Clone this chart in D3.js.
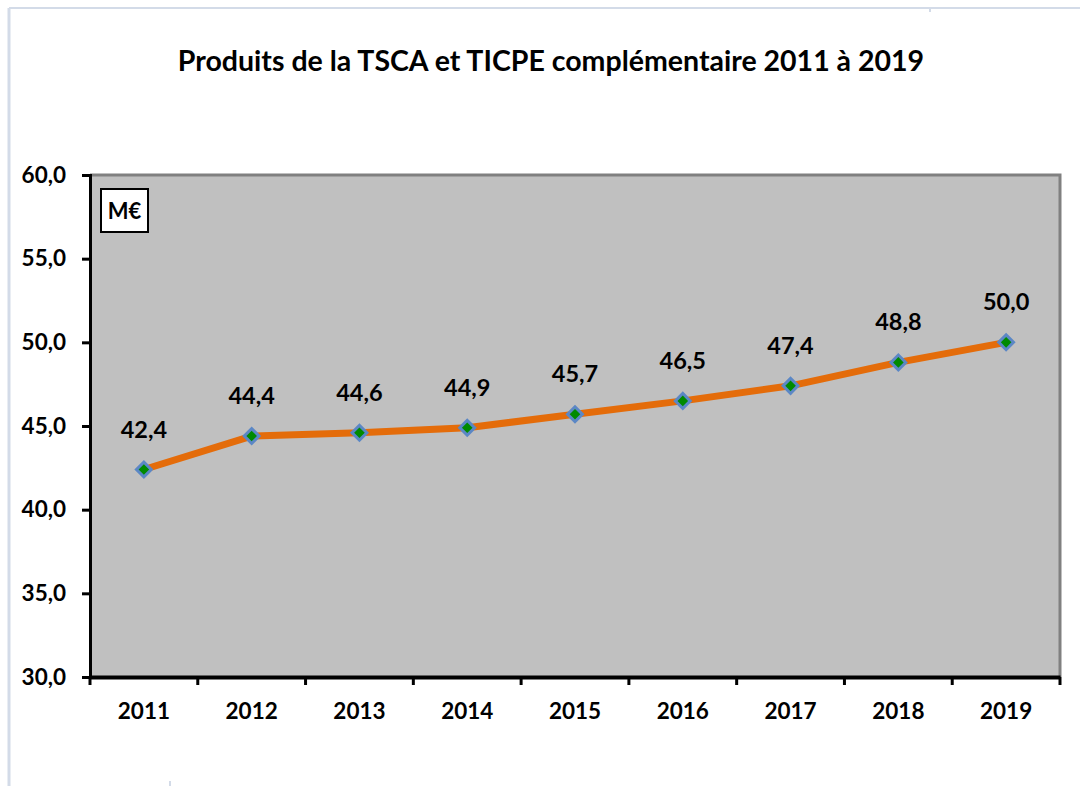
<!DOCTYPE html>
<html>
<head>
<meta charset="utf-8">
<script src="https://cdn.jsdelivr.net/npm/d3@7"></script>
<style>
  body { margin: 0; background: #fff; }
  svg text { font-family: "Lato", "DejaVu Sans", sans-serif; font-weight: bold; fill: #000; }
</style>
</head>
<body>
<svg id="chart" width="1080" height="786"></svg>
<script>
let years = ["2011", "2012", "2013", "2014", "2015", "2016", "2017", "2018", "2019"];
let values = [42.4, 44.4, 44.6, 44.9, 45.7, 46.5, 47.4, 48.8, 50.0];
let yTicks = [30, 35, 40, 45, 50, 55, 60];

let svg = d3.select("#chart");
let fmt = v => v.toFixed(1).replace(".", ",");

// page frame (light lines on the edges)
svg.append("line").attr("x1", 9).attr("x2", 1080).attr("y1", 8).attr("y2", 8)
    .attr("stroke", "#d3dbe8").attr("stroke-width", 2);
svg.append("line").attr("x1", 9).attr("x2", 9).attr("y1", 8).attr("y2", 786)
    .attr("stroke", "#d3dbe8").attr("stroke-width", 3);
svg.append("rect").attr("x", 929).attr("y", 8).attr("width", 2).attr("height", 4).attr("fill", "#d3dbe8");
svg.append("rect").attr("x", 169).attr("y", 781).attr("width", 2).attr("height", 5).attr("fill", "#d3dbe8");

let plotLeft = 90, plotRight = 1060, plotTop = 175, plotBottom = 677;

let x = d3.scaleBand().domain(years).range([plotLeft, plotRight]);
let y = d3.scaleLinear().domain([30, 60]).range([plotBottom, plotTop]);

svg.append("text")
    .attr("x", 551).attr("y", 71)
    .attr("text-anchor", "middle")
    .style("font-size", "28.5px")
    .text("Produits de la TSCA et TICPE complémentaire 2011 à 2019");

// plot area
svg.append("rect")
    .attr("x", plotLeft).attr("y", plotTop)
    .attr("width", plotRight - plotLeft).attr("height", plotBottom - plotTop)
    .attr("fill", "#c0c0c0");
svg.append("path")
    .attr("d", `M${plotLeft},${plotTop}H${plotRight}V${plotBottom}`)
    .attr("fill", "none").attr("stroke", "#808080").attr("stroke-width", 3);

// y axis
let yAxis = svg.append("g")
    .attr("transform", `translate(${plotLeft},0)`)
    .call(d3.axisLeft(y).tickValues(yTicks).tickFormat(fmt).tickSize(8).tickPadding(16));
yAxis.select(".domain").attr("stroke", "#000").attr("stroke-width", 3);
yAxis.selectAll(".tick line").attr("stroke", "#000").attr("stroke-width", 3);
yAxis.selectAll("text").style("font-size", "22.5px").attr("fill", "#000");

// x axis
let xAxis = svg.append("g")
    .attr("transform", `translate(0,${plotBottom})`)
    .call(d3.axisBottom(x).tickSize(0).tickPadding(26));
xAxis.select(".domain").attr("stroke", "#000").attr("stroke-width", 4);
xAxis.selectAll("text").style("font-size", "22.5px").attr("fill", "#000");
xAxis.selectAll(".sep")
    .data(d3.range(years.length + 1))
    .enter()
    .append("line")
    .attr("x1", i => plotLeft + i * x.step())
    .attr("x2", i => plotLeft + i * x.step())
    .attr("y1", 0).attr("y2", 8)
    .attr("stroke", "#000").attr("stroke-width", 3);

// M€ box
svg.append("rect")
    .attr("x", 101).attr("y", 189).attr("width", 47).attr("height", 43)
    .attr("fill", "#fff").attr("stroke", "#000").attr("stroke-width", 2);
svg.append("text")
    .attr("x", 124.5).attr("y", 219)
    .attr("text-anchor", "middle")
    .style("font-size", "22px")
    .text("M€");

let cx = (d, i) => x(years[i]) + x.bandwidth() / 2;

svg.append("path")
    .datum(values)
    .attr("d", d3.line().x(cx).y(d => y(d)))
    .attr("fill", "none")
    .attr("stroke", "#e46c0a")
    .attr("stroke-width", 7)
    .attr("stroke-linejoin", "round");

svg.selectAll(".pt")
    .data(values)
    .enter()
    .append("path")
    .attr("class", "pt")
    .attr("d", d3.symbol().type(d3.symbolSquare).size(110))
    .attr("transform", (d, i) => `translate(${cx(d, i)},${y(d)}) rotate(45)`)
    .attr("fill", "#008a00")
    .attr("stroke", "#5b87c5")
    .attr("stroke-width", 3);

svg.selectAll(".lbl")
    .data(values)
    .enter()
    .append("text")
    .attr("class", "lbl")
    .attr("x", cx)
    .attr("y", d => y(d) - 32)
    .attr("text-anchor", "middle")
    .style("font-size", "23.5px")
    .text(fmt);
</script>
</body>
</html>
